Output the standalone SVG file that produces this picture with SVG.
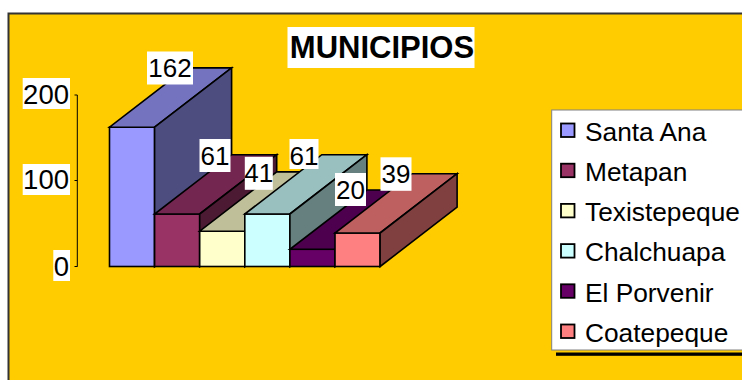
<svg xmlns="http://www.w3.org/2000/svg" width="742" height="380" viewBox="0 0 742 380">
<style>
  text { font-family: "Liberation Sans", Arial, sans-serif; fill: #000; }
  .bar { stroke: #000; stroke-width: 1.6; stroke-linejoin: miter; }
  .lbl { fill: #fff; }
  .dl { font-size: 26px; text-anchor: middle; }
  .ax { font-size: 27.5px; text-anchor: end; }
  .lg { font-size: 26.3px; }
  .sw { stroke: #000; stroke-width: 1.8; }
</style>
<rect x="0" y="0" width="742" height="380" fill="#fff"/>
<rect id="chart-area" x="8.5" y="13.5" width="745" height="380" fill="#FFCC00" stroke="#333" stroke-width="2"/>

<g id="title">
  <rect x="287.5" y="27" width="187" height="41" class="lbl"/>
  <text x="382" y="58" font-size="31" font-weight="bold" text-anchor="middle">MUNICIPIOS</text>
</g>

<g id="axis" stroke="#000" stroke-width="1" fill="none">
  <line x1="77.3" y1="95" x2="77.3" y2="266.7"/>
  <line x1="74.5" y1="95" x2="77.3" y2="95"/>
  <line x1="74.5" y1="180.5" x2="77.3" y2="180.5"/>
  <line x1="74.5" y1="266.5" x2="77.3" y2="266.5"/>
</g>
<g id="axis-labels">
  <rect x="22.7" y="78" width="47.3" height="31" class="lbl"/>
  <text x="69" y="103.5" class="ax">200</text>
  <rect x="22.7" y="164" width="47.3" height="31" class="lbl"/>
  <text x="69" y="189.3" class="ax">100</text>
  <rect x="53.3" y="250" width="16.7" height="31" class="lbl"/>
  <text x="69" y="276" class="ax">0</text>
</g>

<g id="bar-santa-ana" class="bar">
  <rect x="109.5" y="127.2" width="45.1" height="139.3" fill="#9999FF"/>
  <polygon points="109.5,127.2 154.6,127.2 231.6,67.9 186.5,67.9" fill="#7373BF"/>
  <polygon points="154.6,127.2 231.6,67.9 231.6,207.2 154.6,266.5" fill="#4D4D80"/>
</g>
<g id="bar-metapan" class="bar">
  <rect x="154.6" y="214" width="45.1" height="52.5" fill="#993366"/>
  <polygon points="154.6,214 199.7,214 276.7,154.7 231.6,154.7" fill="#732650"/>
  <polygon points="199.7,214 276.7,154.7 276.7,207.2 199.7,266.5" fill="#4D1A33"/>
</g>
<g id="bar-texistepeque" class="bar">
  <rect x="199.7" y="231.2" width="45.1" height="35.3" fill="#FFFFCC"/>
  <polygon points="199.7,231.2 244.8,231.2 321.8,171.9 276.7,171.9" fill="#BFBF99"/>
  <polygon points="244.8,231.2 321.8,171.9 321.8,207.2 244.8,266.5" fill="#808066"/>
</g>
<g id="bar-chalchuapa" class="bar">
  <rect x="244.8" y="214" width="45.1" height="52.5" fill="#CCFFFF"/>
  <polygon points="244.8,214 289.9,214 366.9,154.7 321.8,154.7" fill="#99BFBF"/>
  <polygon points="289.9,214 366.9,154.7 366.9,207.2 289.9,266.5" fill="#668080"/>
</g>
<g id="bar-el-porvenir" class="bar">
  <rect x="289.9" y="249.3" width="45.1" height="17.2" fill="#660066"/>
  <polygon points="289.9,249.3 335,249.3 412,190 366.9,190" fill="#4D004D"/>
  <polygon points="335,249.3 412,190 412,207.2 335,266.5" fill="#330033"/>
</g>
<g id="bar-coatepeque" class="bar">
  <rect x="335" y="233" width="45.1" height="33.5" fill="#FF8080"/>
  <polygon points="335,233 380.1,233 457.1,173.7 412,173.7" fill="#BF6060"/>
  <polygon points="380.1,233 457.1,173.7 457.1,207.2 380.1,266.5" fill="#804040"/>
</g>

<g id="data-labels">
  <rect x="147" y="51.5" width="46" height="33" class="lbl"/>
  <text x="170" y="77" class="dl">162</text>
  <rect x="199.5" y="139" width="31" height="33" class="lbl"/>
  <text x="215" y="164.5" class="dl">61</text>
  <rect x="244.8" y="156.8" width="28" height="33" class="lbl"/>
  <text x="258.8" y="182" class="dl">41</text>
  <rect x="289.5" y="139" width="29" height="30" class="lbl"/>
  <text x="304" y="164.5" class="dl">61</text>
  <rect x="335" y="173" width="31" height="33" class="lbl"/>
  <text x="350.5" y="199" class="dl">20</text>
  <rect x="380.5" y="157.3" width="31" height="33.5" class="lbl"/>
  <text x="396" y="182.8" class="dl">39</text>
</g>

<g id="legend">
  <rect x="556" y="352.5" width="200" height="3.3" fill="#000"/>
  <rect x="551.7" y="110" width="200" height="240" fill="#fff" stroke="#808080" stroke-width="1"/>
  <rect x="561" y="123.5" width="13.5" height="13.5" class="sw" fill="#9999FF"/>
  <text x="585" y="140.7" class="lg">Santa Ana</text>
  <rect x="561" y="163.7" width="13.5" height="13.5" class="sw" fill="#993366"/>
  <text x="585" y="180.9" class="lg">Metapan</text>
  <rect x="561" y="203.9" width="13.5" height="13.5" class="sw" fill="#FFFFCC"/>
  <text x="585" y="221.1" class="lg">Texistepeque</text>
  <rect x="561" y="244.1" width="13.5" height="13.5" class="sw" fill="#CCFFFF"/>
  <text x="585" y="261.3" class="lg">Chalchuapa</text>
  <rect x="561" y="284.3" width="13.5" height="13.5" class="sw" fill="#660066"/>
  <text x="585" y="301.5" class="lg">El Porvenir</text>
  <rect x="561" y="324.5" width="13.5" height="13.5" class="sw" fill="#FF8080"/>
  <text x="585" y="341.7" class="lg">Coatepeque</text>
</g>
</svg>
